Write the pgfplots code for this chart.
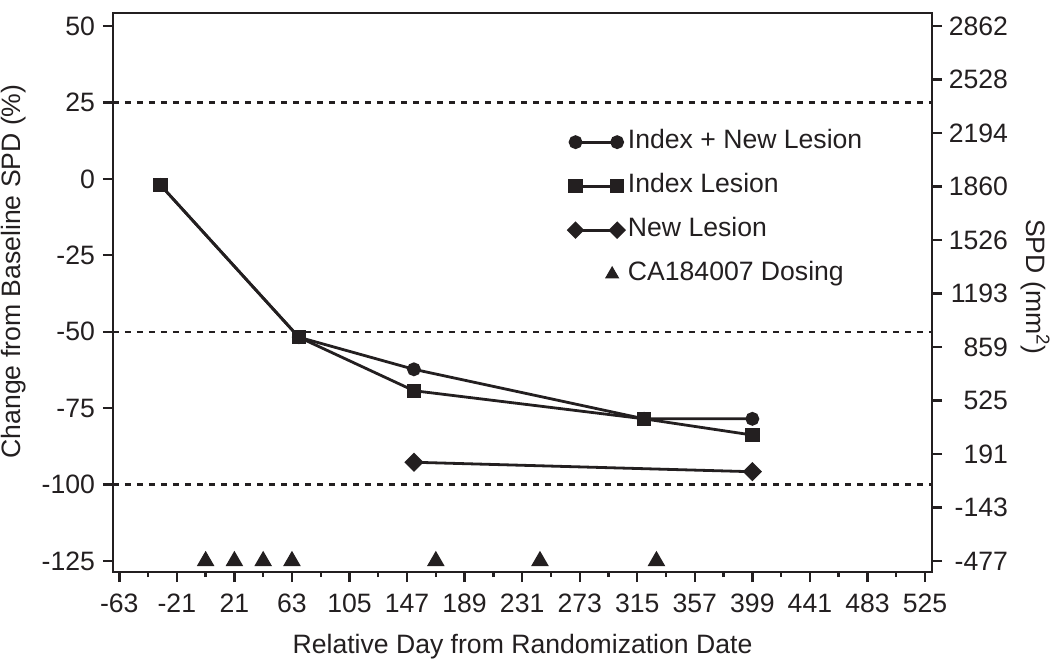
\documentclass[border=0pt]{standalone}
\usepackage{fontspec}
\setmainfont{Liberation Sans}
\usepackage{pgfplots}
\pgfplotsset{compat=1.18}
\definecolor{ink}{RGB}{35,31,32}
\pgfplotsset{
  common/.style={
    scale only axis, width=409.5pt, height=279.5pt,
    xmin=-67.6, xmax=530.1, ymin=-128.6, ymax=54.25,
    axis line style={ink, line width=1.4pt},
    every tick/.style={ink, line width=1.2pt},
    tick align=outside,
    major tick length=5pt, minor tick length=2.5pt,
    font=\fontsize{13.3}{16}\selectfont,
    tick label style={font=\fontsize{13.3}{16}\selectfont, text=ink},
    label style={font=\fontsize{13.3}{16}\selectfont, text=ink},
  }
}
\begin{document}
\begin{tikzpicture}
\useasboundingbox (-56.5pt,-43pt) rectangle (470pt,286pt);
\begin{axis}[common,
  xtick={-63,-21,...,525},
  xticklabels={-63,-21,21,63,105,147,189,231,273,315,357,399,441,483,525},
  minor x tick num=1,
  ytick={-125,-100,...,50},
  yticklabels={-125,-100,-75,-50,-25,0,25,50},
  xtick pos=left, ytick pos=left,
  xticklabel style={yshift=-2.5pt},
  yticklabel style={xshift=-0.5pt},
  xlabel={Relative Day from Randomization Date},
  xlabel style={at={(axis description cs:0.5,-0.145)}, anchor=base},
  ylabel={Change from Baseline SPD (\%)},
  ylabel style={at={(axis description cs:-0.1209,0.5376)}, anchor=center},
  legend style={draw=none, fill=none, at={(0.556,0.799)}, anchor=north west,
    row sep=5.6pt, inner sep=0pt,
    nodes={inner sep=2pt, text height=9.6pt, text depth=2.8pt, text=ink},
    font=\fontsize{13.3}{16}\selectfont},
  legend cell align=left,
]
\addplot[ink, line width=1.1pt, dash pattern=on 3pt off 3pt, forget plot] coordinates {(-67.6,25) (530.1,25)};
\addplot[ink, line width=1.1pt, dash pattern=on 3pt off 3pt, forget plot] coordinates {(-67.6,-50) (530.1,-50)};
\addplot[ink, line width=1.1pt, dash pattern=on 3pt off 3pt, forget plot] coordinates {(-67.6,-100) (530.1,-100)};

\addplot[ink, line width=1.4pt, mark=*, mark size=2.75pt, mark options={solid, fill=ink},
  legend image code/.code={\draw plot coordinates {(0pt,0pt) (20.8pt,0pt)};}]
  coordinates {(-33,-2) (68,-51.8) (152,-62.3) (320,-78.5) (399,-78.5)};
\addlegendentry{Index + New Lesion}

\addplot[ink, line width=1.4pt, mark=square*, mark size=2.9pt, mark options={solid, fill=ink},
  legend image code/.code={\draw plot coordinates {(0pt,0pt) (20.8pt,0pt)};}]
  coordinates {(-33,-2) (68,-51.8) (152,-69.3) (320,-78.5) (399,-83.8)};
\addlegendentry{Index Lesion}

\addplot[ink, line width=1.4pt, mark=square*, mark size=2.7pt, mark options={solid, fill=ink, rotate=45},
  legend image code/.code={\draw[mark size=2.4pt] plot coordinates {(0pt,0pt) (20.8pt,0pt)};}]
  coordinates {(152,-92.7) (399,-95.8)};
\addlegendentry{New Lesion}

\addplot[ink, only marks, mark=triangle*, mark size=4.5pt, mark options={fill=ink, line width=0.6pt},
  legend image code/.code={\draw[mark size=3.5pt] plot coordinates {(18.3pt,0pt)};}]
  coordinates {(0,-125) (21,-125) (42,-125) (63,-125) (168,-125) (244,-125) (329,-125)};
\addlegendentry{CA184007 Dosing}
\end{axis}
\begin{axis}[common,
  axis x line=none, axis y line*=right,
  ytick={-125,-107.5,-90,-72.5,-55,-37.5,-20,-2.5,15,32.5,50},
  yticklabels={-477,-143,191,525,859,1193,1526,1860,2194,2528,2862},
  yticklabel style={anchor=east, xshift=36.5pt},
  ylabel={SPD (mm\textsuperscript{2})},
  ylabel style={rotate=180, at={(axis description cs:1.1258,0.51)}, anchor=center},
]
\end{axis}
\end{tikzpicture}
\end{document}
